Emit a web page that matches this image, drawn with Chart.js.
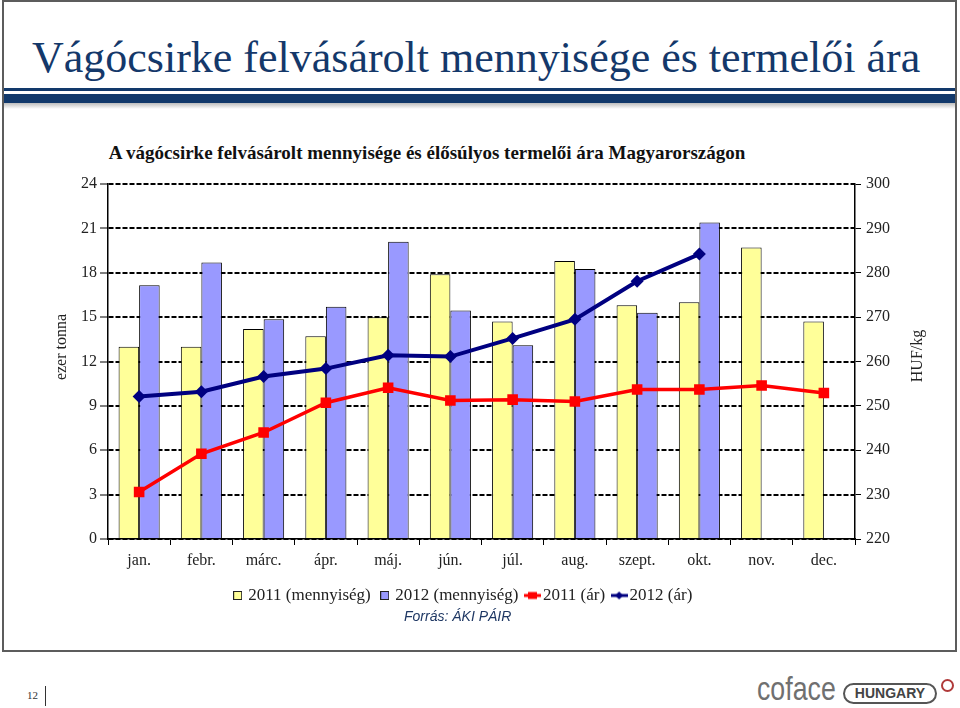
<!DOCTYPE html>
<html>
<head>
<meta charset="utf-8">
<script src="https://cdn.jsdelivr.net/npm/chart.js@4.4.1/dist/chart.umd.min.js"></script>
<style>
  body { margin: 0; width: 960px; height: 708px; position: relative; overflow: hidden; background: #fff; font-family: "Liberation Serif", "Times New Roman", serif; }
  #frame { position: absolute; left: 2px; top: 0; width: 955px; height: 652px; box-sizing: border-box; border: 2px solid #5c5c5c; }
  #pageTitle { position: absolute; left: 32px; top: 36px; font-size: 44px; line-height: 1; color: #14386a; white-space: nowrap; }
  .bar { position: absolute; left: 4px; width: 951px; background: #12396b; }
  #shade { position: absolute; left: 4px; width: 951px; top: 103px; height: 6px; background: linear-gradient(#bdbdbd, #fff); }
  #chartTitle { position: absolute; left: 107px; width: 640px; top: 142px; text-align: center; font-weight: bold; font-size: 19px; color: #111; white-space: nowrap; }
  #wrap { position: absolute; left: 0; top: 130px; width: 960px; height: 500px; }
  #source { position: absolute; left: 404px; top: 608px; font-family: "Liberation Sans", Arial, sans-serif; font-style: italic; font-size: 14px; color: #1f3864; }
  #pageNo { position: absolute; left: 27px; top: 689px; font-size: 11px; color: #333; }
  #pageBar { position: absolute; left: 45px; top: 686px; width: 1px; height: 20px; background: #333; }
  #logo { position: absolute; left: 757px; top: 672px; font-family: "Liberation Sans", Arial, sans-serif; font-size: 33px; color: #707070; line-height: 1; transform: scaleX(0.81); transform-origin: left top; }
  #hungary { position: absolute; left: 843px; top: 683px; width: 94px; height: 21px; box-sizing: border-box; border: 2px solid #555; border-radius: 11px; font-family: "Liberation Sans", Arial, sans-serif; font-weight: bold; font-size: 14px; line-height: 17px; text-align: center; color: #444; }
  #swirl { position: absolute; left: 941px; top: 679px; width: 9px; height: 9px; border: 2px solid #b03a3a; border-radius: 50%; }
</style>
</head>
<body>
<div id="frame"></div>
<div id="pageTitle">Vágócsirke felvásárolt mennyisége és termelői ára</div>
<div class="bar" style="top:88px;height:3px"></div>
<div class="bar" style="top:94px;height:9px"></div>
<div id="shade"></div>
<div id="chartTitle">A vágócsirke felvásárolt mennyisége és élősúlyos termelői ára Magyarországon</div>
<div id="wrap"><canvas id="chart" width="960" height="500"></canvas></div>
<div id="source">Forrás: ÁKI PÁIR</div>
<div id="pageNo">12</div>
<div id="pageBar"></div>
<div id="logo">coface</div>
<div id="hungary">HUNGARY</div>
<div id="swirl"></div>

<script>
var months = ['jan.', 'febr.', 'márc.', 'ápr.', 'máj.', 'jún.', 'júl.', 'aug.', 'szept.', 'okt.', 'nov.', 'dec.'];
var qty2011 = [13.0, 13.0, 14.2, 13.7, 15.0, 17.9, 14.7, 18.8, 15.8, 16.0, 19.7, 14.7];
var qty2012 = [17.15, 18.7, 14.85, 15.7, 20.1, 15.45, 13.1, 18.25, 15.3, 21.4, null, null];
var price2011 = [230.6, 239.2, 244.0, 250.7, 254.1, 251.2, 251.4, 251.0, 253.7, 253.7, 254.6, 252.9];
var price2012 = [252.1, 253.2, 256.6, 258.4, 261.4, 261.1, 265.2, 269.5, 278.1, 284.2, null, null];
var qtyTicks = [0, 3, 6, 9, 12, 15, 18, 21, 24];
var priceTicks = [220, 230, 240, 250, 260, 270, 280, 290, 300];

Chart.defaults.font.family = '"Liberation Serif", "Times New Roman", serif';
Chart.defaults.color = '#222';

// small canvases used as legend markers
function boxIcon(color) {
    var c = document.createElement('canvas');
    c.width = 9; c.height = 9;
    var g = c.getContext('2d');
    g.fillStyle = color;
    g.fillRect(0, 0, 9, 9);
    g.strokeStyle = '#222';
    g.lineWidth = 1;
    g.strokeRect(0.5, 0.5, 8, 8);
    return c;
}

function lineIcon(color, diamond) {
    var c = document.createElement('canvas');
    c.width = 17; c.height = 10;
    var g = c.getContext('2d');
    g.strokeStyle = color;
    g.fillStyle = color;
    g.lineWidth = 3;
    g.beginPath(); g.moveTo(0, 5); g.lineTo(17, 5); g.stroke();
    g.beginPath();
    if (diamond) {
        g.moveTo(8.5, 1); g.lineTo(12.5, 5); g.lineTo(8.5, 9); g.lineTo(4.5, 5);
    } else {
        g.rect(4, 1.5, 9, 7);
    }
    g.fill();
    return c;
}

var icons = [boxIcon('#FFFF99'), boxIcon('#9999FF'), lineIcon('#FF0000', false), lineIcon('#000080', true)];

var axisTitles = {
    id: 'axisTitles',
    afterDraw: function(chart) {
        var ctx = chart.ctx;
        var area = chart.chartArea;
        ctx.save();
        ctx.font = '16px "Liberation Serif", serif';
        ctx.fillStyle = '#222';
        ctx.textAlign = 'center';
        ctx.textBaseline = 'middle';
        [['ezer tonna', area.left - 46, 217], ['HUF/kg', area.right + 63, 226]].forEach(function(t) {
            ctx.save();
            ctx.translate(t[1], t[2]);
            ctx.rotate(-Math.PI / 2);
            ctx.fillText(t[0], 0, 0);
            ctx.restore();
        });
        ctx.restore();
    }
};

new Chart(document.getElementById('chart'), {
    data: {
        labels: months,
        datasets: [
            { type: 'bar', label: '2011 (mennyiség)', data: qty2011, yAxisID: 'y', order: 2,
              backgroundColor: '#FFFF99', borderColor: '#000', borderWidth: 1,
              categoryPercentage: 0.66, barPercentage: 1 },
            { type: 'bar', label: '2012 (mennyiség)', data: qty2012, yAxisID: 'y', order: 2,
              backgroundColor: '#9999FF', borderColor: '#000', borderWidth: 1,
              categoryPercentage: 0.66, barPercentage: 1 },
            { type: 'line', label: '2011 (ár)', data: price2011, yAxisID: 'y1', order: 1,
              borderColor: '#FF0000', backgroundColor: '#FF0000', borderWidth: 3.5,
              pointStyle: 'rect', pointRadius: 7.5, pointBorderWidth: 0 },
            { type: 'line', label: '2012 (ár)', data: price2012, yAxisID: 'y1', order: 1,
              borderColor: '#000080', backgroundColor: '#000080', borderWidth: 4,
              pointStyle: 'rectRot', pointRadius: 6.5, pointBorderWidth: 0 }
        ]
    },
    options: {
        responsive: false,
        animation: false,
        layout: { padding: { top: 54, left: 22, right: 54, bottom: 16 } },
        plugins: {
            title: { display: false },
            tooltip: { enabled: false },
            legend: {
                position: 'bottom',
                labels: {
                    usePointStyle: true,
                    boxWidth: 4,
                    padding: 12,
                    font: { size: 17 },
                    color: '#222',
                    generateLabels: function(chart) {
                        return chart.data.datasets.map(function(ds, i) {
                            return { text: ds.label, pointStyle: icons[i], datasetIndex: i, hidden: false,
                                     fontColor: '#222', lineWidth: 0, strokeStyle: 'transparent', fillStyle: 'transparent' };
                        });
                    }
                }
            }
        },
        scales: {
            x: {
                afterFit: function(scale) { scale.height = 36; },
                grid: { display: true, drawOnChartArea: false, offset: true, color: '#000', lineWidth: 1, tickLength: 6 },
                border: { display: true, color: '#000', width: 1.5 },
                ticks: { font: { size: 16 }, padding: 6, color: '#222' }
            },
            y: {
                position: 'left',
                min: qtyTicks[0],
                max: qtyTicks[qtyTicks.length - 1],
                afterFit: function(scale) { scale.width = 86; },
                afterBuildTicks: function(scale) { scale.ticks = qtyTicks.map(function(v) { return { value: v }; }); },
                grid: { color: '#000', lineWidth: 2, tickLength: 8, tickWidth: 1, tickColor: '#000', tickBorderDash: [] },
                border: { display: true, color: '#000', width: 1.5, dash: [5, 2] },
                ticks: { font: { size: 16 }, padding: 3, color: '#222' }
            },
            y1: {
                position: 'right',
                min: priceTicks[0],
                max: priceTicks[priceTicks.length - 1],
                afterFit: function(scale) { scale.width = 51; },
                afterBuildTicks: function(scale) { scale.ticks = priceTicks.map(function(v) { return { value: v }; }); },
                grid: { drawOnChartArea: false, color: '#000', lineWidth: 1, tickLength: 6 },
                border: { display: true, color: '#000', width: 1.5 },
                ticks: { font: { size: 16 }, padding: 5, color: '#222' }
            }
        }
    },
    plugins: [axisTitles]
});
</script>
</body>
</html>
